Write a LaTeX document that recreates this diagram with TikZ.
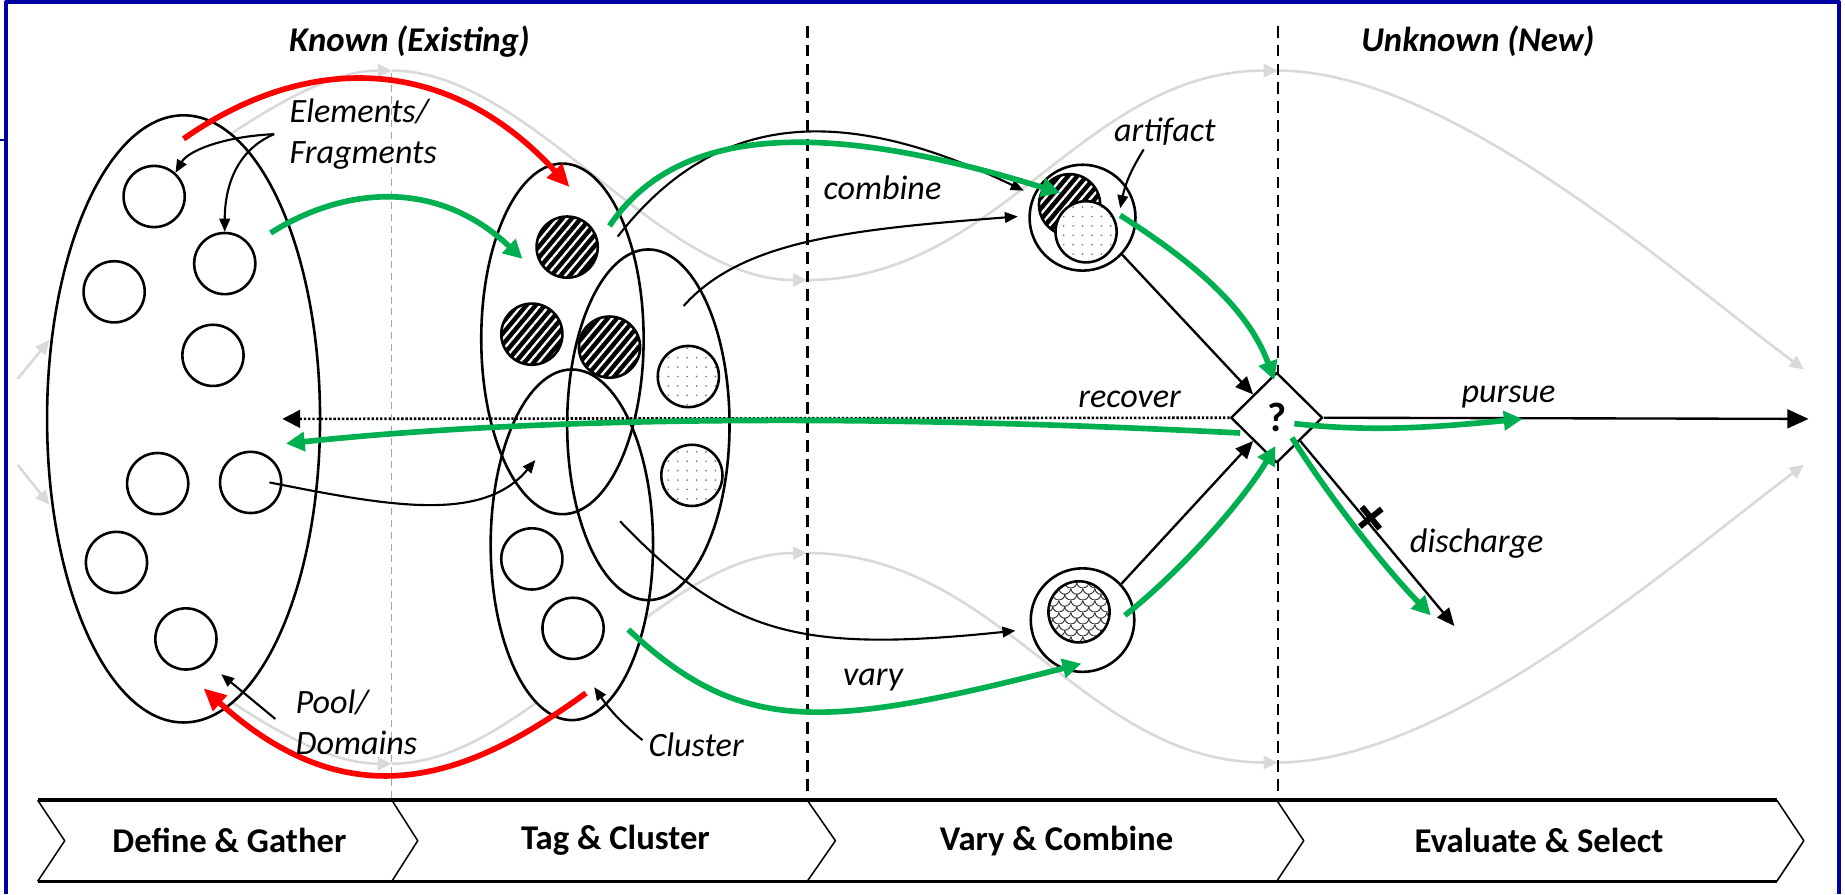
\documentclass[tikz,border=0pt]{standalone}
\usepackage{fontspec}
\setmainfont{Carlito}
\usetikzlibrary{arrows.meta,patterns,patterns.meta,shapes.geometric}

\definecolor{frameblue}{RGB}{0,0,160}
\definecolor{pgreen}{RGB}{0,176,80}
\definecolor{pred}{RGB}{255,0,0}
\definecolor{wave}{RGB}{217,217,217}
\definecolor{dashgray}{RGB}{166,166,166}
\definecolor{dotgray}{RGB}{120,120,120}

\tikzdeclarepattern{
  name=fishscale,
  type=uncolored,
  bounding box={(0pt,0pt) and (10pt,10pt)},
  tile size={(10pt,10pt)},
  code={
    \draw[line width=0.8pt] (0pt,10pt) arc[start angle=180,end angle=360,radius=5pt];
    \draw[line width=0.8pt] (-5pt,5pt) arc[start angle=180,end angle=360,radius=5pt];
    \draw[line width=0.8pt] (5pt,5pt) arc[start angle=180,end angle=360,radius=5pt];
  }
}

\tikzset{
  lbl/.style={font=\fontsize{29}{35}\selectfont\itshape, inner sep=0pt},
  ttl/.style={font=\fontsize{29.5}{34}\selectfont\bfseries\itshape, inner sep=0pt},
  chv/.style={font=\fontsize{29.5}{34}\selectfont\bfseries, inner sep=0pt},
  elem/.style={circle, draw, line width=2.2pt, minimum size=52pt, inner sep=0pt},
  hatch/.style={elem, preaction={fill=black}, pattern={Lines[angle=50,distance=6pt,line width=2pt]}, pattern color=white},
  dotc/.style={elem, preaction={fill=white}, pattern={Dots[distance=8pt,radius=0.8pt]}, pattern color=dotgray},
  scalec/.style={elem, preaction={fill=white}, pattern=fishscale, pattern color=black!80},
  pool/.style={ellipse, draw, line width=2.2pt, minimum width=232pt, minimum height=516pt, inner sep=0pt},
  clus/.style={ellipse, draw, line width=2.2pt, minimum width=138pt, minimum height=298pt, inner sep=0pt},
  ring/.style={circle, draw, line width=2.2pt, fill=white, inner sep=0pt},
  wv/.style={draw=wave, line width=2.2pt, -{Triangle[length=12pt,width=11pt]}},
  blk/.style={draw=black, line width=2pt, -{Triangle[length=15pt,width=13pt]}},
  sblk/.style={draw=black, line width=1.8pt, -{Triangle[length=11pt,width=9pt]}},
  gar/.style={draw=pgreen, line width=4.8pt, -{Triangle[length=16pt,width=16pt]}},
  rar/.style={draw=pred, line width=4.8pt, -{Triangle[length=19pt,width=17pt]}},
}

\begin{document}
\begin{tikzpicture}[x=1pt,y=-1pt,line join=round]
\useasboundingbox (0,0) rectangle (1568,760);
\fill[white] (0,0) rectangle (1568,760);

% frame
\draw[frameblue, line width=3pt] (5,760) -- (5,1.5) -- (1563,1.5) -- (1563,760);
\draw[frameblue, line width=2.5pt] (0,119) -- (5,119);

% wave coordinates
\coordinate (ws1) at (196,114);
\coordinate (wl1) at (333,60);
\coordinate (wm1) at (686,238);
\coordinate (wr1) at (1086,60);
\coordinate (we1) at (1533,314);
\coordinate (ws2) at (196,596);
\coordinate (wl2) at (333,649);
\coordinate (wm2) at (686,470);
\coordinate (wr2) at (1086,648);
\coordinate (we2) at (1533,395);
\coordinate (wi1) at (15,322);
\coordinate (wi1e) at (42,289);
\coordinate (wi2) at (15,395);
\coordinate (wi2e) at (42,429);

\draw[wv] (ws1) .. controls (250,78) and (290,60) .. (wl1);
\draw[wv] (wl1) .. controls (450,60) and (560,238) .. (wm1);
\draw[wv] (wm1) .. controls (850,238) and (920,60) .. (wr1);
\draw[wv] (wr1) .. controls (1230,60) and (1420,230) .. (we1);
\draw[wv] (ws2) .. controls (250,632) and (290,649) .. (wl2);
\draw[wv] (wl2) .. controls (450,649) and (560,470) .. (wm2);
\draw[wv] (wm2) .. controls (850,470) and (920,648) .. (wr2);
\draw[wv] (wr2) .. controls (1230,648) and (1420,480) .. (we2);
\draw[wv] (wi1) -- (wi1e);
\draw[wv] (wi2) -- (wi2e);

% dashed separators
\coordinate (d1t) at (333,62);  \coordinate (d1b) at (333,680);
\coordinate (d2t) at (686,22);  \coordinate (d2b) at (686,680);
\coordinate (d3t) at (1086,22); \coordinate (d3b) at (1086,680);
\draw[dashgray, line width=1pt, dash pattern=on 6pt off 4pt] (d1t) -- (d1b);
\draw[black, line width=2.3pt, dash pattern=on 10pt off 6pt] (d2t) -- (d2b);
\draw[black, line width=2.3pt, dash pattern=on 10pt off 6pt] (d3t) -- (d3b);

% titles
\node[ttl] (tknown) at (348,35) {Known (Existing)};
\node[ttl] (tunknown) at (1256,35) {Unknown (New)};

% ellipse fills
\fill[white] (156,356) ellipse[x radius=116pt, y radius=258pt];
\fill[white] (478,288) ellipse[x radius=69pt, y radius=149pt];
\fill[white] (551,361) ellipse[x radius=69pt, y radius=149pt];
\fill[white] (486,463) ellipse[x radius=69pt, y radius=149pt];

% pool
\node[pool] (pool) at (156,356) {};
\node[elem] (e1) at (131,167) {};
\node[elem] (e2) at (191,224) {};
\node[elem] (e3) at (97,248) {};
\node[elem] (e4) at (181,302) {};
\node[elem] (e5) at (134,411) {};
\node[elem] (e6) at (213,410) {};
\node[elem] (e7) at (99,478) {};
\node[elem] (e8) at (158,543) {};

% clusters
\node[clus] (cA) at (478,288) {};
\node[clus] (cB) at (551,361) {};
\node[clus] (cC) at (486,463) {};
\node[hatch] (h1) at (482,210) {};
\node[hatch] (h2) at (452,284) {};
\node[hatch] (h3) at (518,295) {};
\node[dotc] (d1) at (585,320) {};
\node[dotc] (d2) at (588,404) {};
\node[elem] (c1) at (452,475) {};
\node[elem] (c2) at (487,534) {};

% artifacts
\node[ring, minimum size=90pt] (art) at (920,185) {};
\node[hatch] (ah) at (909,174) {};
\node[dotc] (ad) at (923,197) {};
\node[ring, minimum size=88pt] (var) at (920,527) {};
\node[scalec] (vs) at (917,520) {};

% decision
\node[diamond, draw, fill=white, line width=2pt, minimum width=78pt, minimum height=77pt, inner sep=0pt, font=\fontsize{35}{38}\selectfont\bfseries] (dec) at (1085,355) {?};

% chevrons
\draw[line width=1.3pt] (32,680) -- (55,714.5) -- (32,749);
\draw[line width=1.3pt] (333,680) -- (355,714.5) -- (333,749);
\draw[line width=1.3pt] (686,680) -- (710,714.5) -- (686,749);
\draw[line width=1.3pt] (1085,680) -- (1108,714.5) -- (1085,749);
\draw[line width=1.3pt] (1510,680) -- (1533,714.5) -- (1510,749);
\draw[line width=3pt] (32,680) -- (1510,680);
\draw[line width=3pt] (32,749) -- (1510,749);
\node[chv] (s1) at (195,714.5) {Define \& Gather};
\node[chv] (s2) at (523,714.5) {Tag \& Cluster};
\node[chv] (s3) at (898,714.5) {Vary \& Combine};
\node[chv] (s4) at (1308,714.5) {Evaluate \& Select};

% connector end points
\coordinate (elA) at (233,114);
\coordinate (poA) at (234,611); \coordinate (poB) at (188,573);
\coordinate (clA) at (546,629); \coordinate (clB) at (505,584);
\coordinate (arA) at (972,127); \coordinate (arB) at (952,177);
\coordinate (cb1s) at (525,201); \coordinate (cb1e) at (870,162);
\coordinate (cb2s) at (581,260); \coordinate (cb2e) at (865,184);
\coordinate (e6s) at (229,410); \coordinate (e6e) at (455,391);
\coordinate (vbs) at (527,443); \coordinate (vbe) at (863,536);
\coordinate (vgs) at (534,535); \coordinate (vge) at (919,564);
\coordinate (rts) at (156,118); \coordinate (rte) at (484,159);
\coordinate (gts) at (230,198); \coordinate (gte) at (444,220);
\coordinate (rbs) at (498,589); \coordinate (rbe) at (173,585);
\coordinate (gcs) at (518,192); \coordinate (gce) at (901,164);
\coordinate (gas) at (952,183); \coordinate (gae) at (1083,323);
\coordinate (gvs) at (956,523); \coordinate (gve) at (1084,379);
\coordinate (dis) at (1236,532);
\coordinate (gds) at (1098,372); \coordinate (gde) at (1216,523);
\coordinate (pur) at (1537,356);
\coordinate (gps) at (1100,360); \coordinate (gpe) at (1294,356);
\coordinate (rec) at (240,356);
\coordinate (grs) at (1054,368); \coordinate (gre) at (243,377);

% black thin connectors
\draw[sblk] (elA) .. controls (190,116) and (160,128) .. (e1.48);
\draw[sblk] (elA) .. controls (200,128) and (191,160) .. (e2.north);
\draw[sblk] (poA) -- (poB);
\draw[sblk] (clA) to[bend left=8] (clB);
\draw[sblk] (arA) to[bend right=10] (arB);
\draw[sblk] (cb1s) .. controls (600,105) and (700,80) .. (cb1e);
\draw[sblk] (cb2s) .. controls (630,205) and (720,195) .. (cb2e);
\draw[sblk] (e6s) .. controls (330,430) and (410,445) .. (e6e);
\draw[sblk] (vbs) .. controls (620,540) and (680,555) .. (vbe);

% decision connectors
\draw[blk] (art.-43) -- (dec.north west);
\draw[blk] (var.43) -- (dec.south west);
\draw[blk] (dec.south east) -- (dis);
\draw[line width=5pt] (1157.4,430.7) -- (1172.6,449.3);
\draw[line width=5pt] (1155.7,447.5) -- (1174.3,432.5);
\draw[draw=black, line width=2pt, -{Triangle[length=18pt,width=16pt]}] (dec.east) -- (pur);
\draw[draw=black, line width=2.2pt, dash pattern=on 2pt off 1.6pt, -{Triangle[length=15pt,width=15pt]}] (dec.west) -- (rec);

% red arrows
\draw[rar] (rts) .. controls (260,45) and (380,45) .. (rte);
\draw[rar] (rbs) .. controls (400,660) and (300,700) .. (rbe);

% green arrows
\draw[gar] (gts) .. controls (290,160) and (370,150) .. (gte);
\draw[gar] (gcs) .. controls (570,115) and (680,95) .. (gce);
\draw[gar] (vgs) .. controls (630,625) and (700,620) .. (vge);
\draw[gar] (gas) .. controls (1010,220) and (1060,260) .. (gae);
\draw[gar] (gvs) .. controls (1010,480) and (1060,420) .. (gve);
\draw[gar] (gds) .. controls (1125,415) and (1170,475) .. (gde);
\draw[gar] (gps) .. controls (1170,368) and (1230,362) .. (gpe);
\draw[gar] (grs) .. controls (800,355) and (500,350) .. (gre);

% labels
\node[lbl, anchor=west, align=left] (lelem) at (246,114) {Elements/\\Fragments};
\node[lbl, anchor=west, align=left] (lpool) at (251,614) {Pool/\\Domains};
\node[lbl, anchor=west] (lclus) at (551,633) {Cluster};
\node[lbl] (lcomb) at (750,160) {combine};
\node[lbl] (lart) at (990,112) {artifact};
\node[lbl] (lrec) at (960,339) {recover};
\node[lbl] (lpur) at (1282,337) {pursue};
\node[lbl] (ldis) at (1255,462) {discharge};
\node[lbl] (lvar) at (742,578) {vary};
\end{tikzpicture}
\end{document}
